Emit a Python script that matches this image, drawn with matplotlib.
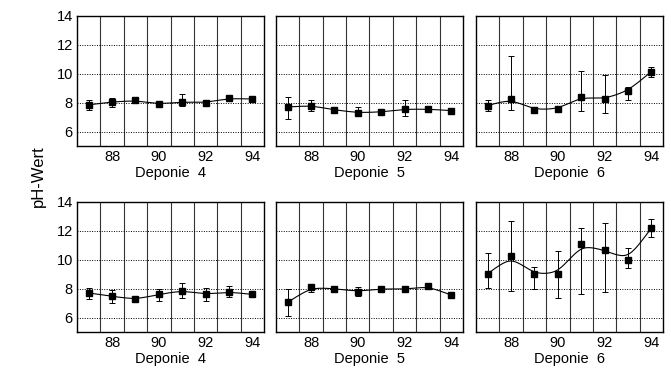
import matplotlib
matplotlib.use('Agg')
import matplotlib.pyplot as plt
import numpy as np

plt.rcParams['font.family'] = ['Liberation Sans', 'DejaVu Sans']

years = [87, 88, 89, 90, 91, 92, 93, 94]
xticks = [88, 90, 92, 94]
yticks = [6, 8, 10, 12, 14]
titles = ['Deponie  4', 'Deponie  5', 'Deponie  6']

# top row: mean values, lower / upper error (0 = no bar)
top_d4 = [7.85, 8.05, 8.15, 7.9, 8.05, 8.0, 8.3, 8.25]
top_d4_lo = [0.35, 0.35, 0, 0, 0.25, 0.2, 0, 0]
top_d4_hi = [0.3, 0.3, 0, 0, 0.55, 0.15, 0, 0]

top_d5 = [7.7, 7.8, 7.5, 7.3, 7.35, 7.55, 7.55, 7.45]
top_d5_lo = [0.8, 0.4, 0, 0.1, 0, 0.45, 0, 0]
top_d5_hi = [0.7, 0.4, 0, 0.4, 0, 0.6, 0, 0]

top_d6 = [7.8, 8.25, 7.5, 7.55, 8.4, 8.25, 8.8, 10.15]
top_d6_lo = [0.4, 0.75, 0, 0, 0.95, 0.95, 0.6, 0.35]
top_d6_hi = [0.4, 2.95, 0, 0, 1.8, 1.65, 0.25, 0.35]

# bottom row
bot_d4 = [7.7, 7.47, 7.25, 7.6, 7.87, 7.6, 7.78, 7.6]
bot_d4_lo = [0.4, 0.45, 0, 0.45, 0.5, 0.45, 0.35, 0]
bot_d4_hi = [0.35, 0.45, 0, 0.35, 0.55, 0.45, 0.4, 0]

bot_d5 = [7.05, 8.1, 8.0, 7.8, 8.0, 7.95, 8.17, 7.55]
bot_d5_lo = [0.95, 0.3, 0, 0.3, 0, 0.1, 0, 0]
bot_d5_hi = [0.95, 0.25, 0, 0.3, 0, 0.1, 0, 0]

bot_d6 = [9.03, 10.26, 8.98, 9.03, 11.07, 10.66, 9.96, 12.2]
bot_d6_lo = [1.0, 2.4, 1.0, 1.7, 3.45, 2.9, 0.55, 0.65]
bot_d6_hi = [1.45, 2.4, 0.55, 1.55, 1.15, 1.85, 0.85, 0.6]

panels = [
    [(top_d4, top_d4_lo, top_d4_hi), (top_d5, top_d5_lo, top_d5_hi), (top_d6, top_d6_lo, top_d6_hi)],
    [(bot_d4, bot_d4_lo, bot_d4_hi), (bot_d5, bot_d5_lo, bot_d5_hi), (bot_d6, bot_d6_lo, bot_d6_hi)],
]


def smooth(x, y, grid, h=0.55):
    # local linear kernel smoother
    x = np.asarray(x, float)
    y = np.asarray(y, float)
    out = []
    for g in grid:
        w = np.exp(-0.5 * ((x - g) / h) ** 2)
        A = np.vstack([np.ones_like(x), x - g]).T
        W = np.diag(w)
        coef = np.linalg.solve(A.T @ W @ A, A.T @ W @ y)
        out.append(coef[0])
    return np.array(out)


fig = plt.figure(figsize=(6.71, 3.75), dpi=100)
lefts = [0.1148, 0.4113, 0.7094]
bottoms = [0.6107, 0.1147]
w, h = 0.2787, 0.3467

grid = np.linspace(87, 94, 200)
for r in range(2):
    for c in range(3):
        ax = fig.add_axes([lefts[c], bottoms[r], w, h])
        vals, lo, hi = panels[r][c]
        ax.plot(grid, smooth(years, vals, grid), color='black', lw=0.8, zorder=3)
        ax.errorbar(years, vals, yerr=[lo, hi], fmt='s', color='black', ms=5,
                    elinewidth=0.7, capsize=2.5, capthick=0.7, zorder=4)
        ax.set_xlim(86.5, 94.5)
        ax.set_ylim(5, 14)
        for xv in np.arange(87.5, 94.5, 1):
            ax.axvline(xv, color='#333333', lw=0.8, zorder=1)
        for yv in [6, 8, 10, 12]:
            ax.axhline(yv, color='black', lw=0.7, ls=(0, (1, 1.5)), zorder=1)
        ax.set_xticks(xticks)
        ax.set_xticklabels([str(t) for t in xticks], fontsize=10.5)
        ax.set_yticks(yticks)
        if c == 0:
            ax.set_yticklabels([str(t) for t in yticks], fontsize=10.5)
        else:
            ax.set_yticklabels([])
        ax.tick_params(length=0, pad=3)
        ax.set_xlabel(titles[c], fontsize=10.5, labelpad=1)
        for s in ax.spines.values():
            s.set_linewidth(1.0)

fig.text(0.057, 0.531, 'pH-Wert', rotation=90, ha='center', va='center', fontsize=12)

fig.savefig('out.png', dpi=100)
